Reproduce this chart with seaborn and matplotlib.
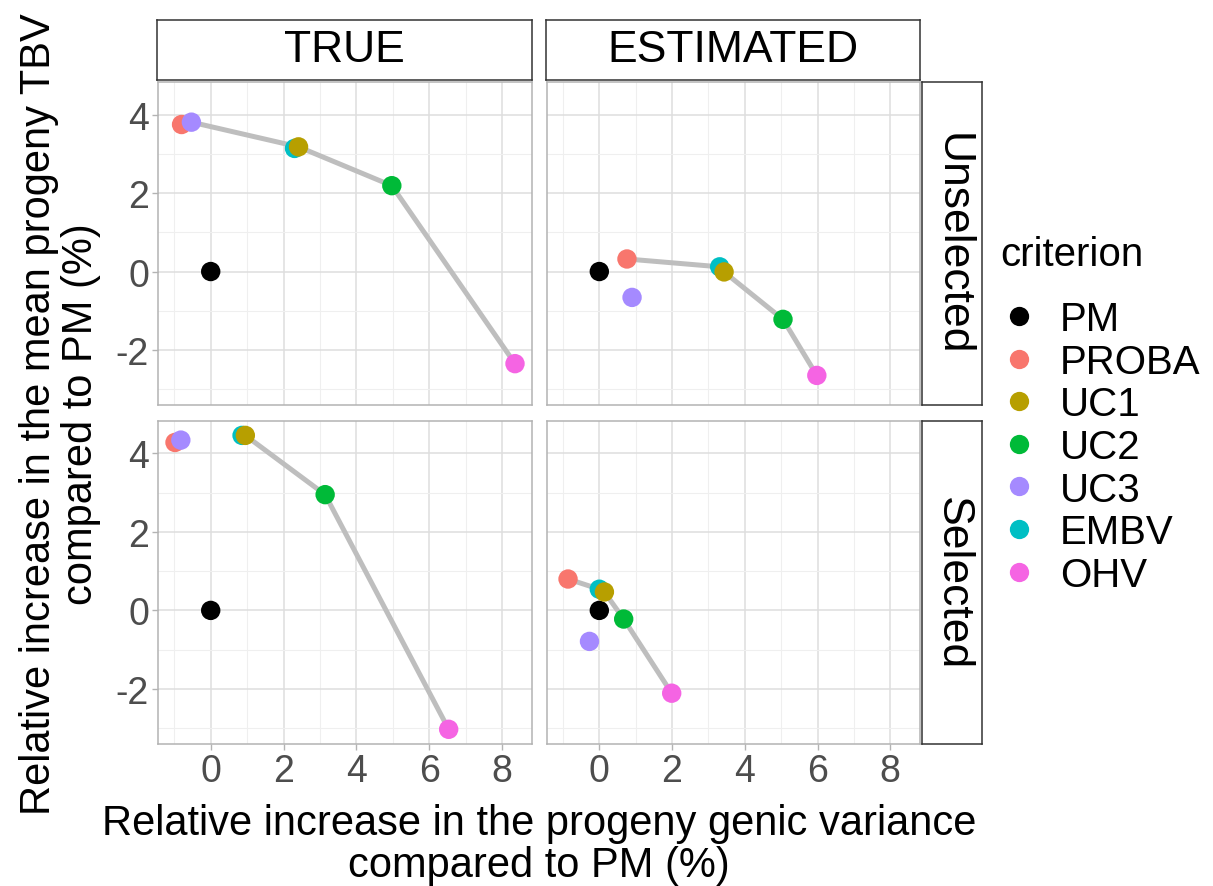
import matplotlib
matplotlib.use('Agg')
import matplotlib.pyplot as plt
from matplotlib.lines import Line2D
from matplotlib.ticker import FixedLocator
import seaborn as sns
import pandas as pd

# criteria, in legend order and in drawing order
criteria = ['PM', 'PROBA', 'UC1', 'UC2', 'UC3', 'EMBV', 'OHV']
draw_order = ['PM', 'PROBA', 'EMBV', 'UC1', 'UC2', 'UC3', 'OHV']
colors = ['#000000', '#F8766D', '#B79F00', '#00BA38', '#A58AFF', '#00BFC4', '#F564E3']

types = ['TRUE', 'ESTIMATED']
sels = ['Unselected', 'Selected']

# values per panel, criterion order PM, PROBA, UC1, UC2, UC3, EMBV, OHV
var_true_unsel = [0, -0.80, 2.41, 4.97, -0.53, 2.30, 8.35]
tbv_true_unsel = [0, 3.75, 3.18, 2.19, 3.81, 3.14, -2.35]
var_est_unsel = [0, 0.76, 3.43, 5.05, 0.90, 3.31, 5.98]
tbv_est_unsel = [0, 0.32, -0.01, -1.22, -0.66, 0.12, -2.65]
var_true_sel = [0, -0.98, 0.95, 3.14, -0.82, 0.86, 6.53]
tbv_true_sel = [0, 4.28, 4.46, 2.95, 4.34, 4.46, -3.03]
var_est_sel = [0, -0.86, 0.14, 0.67, -0.27, 0.00, 1.99]
tbv_est_sel = [0, 0.80, 0.47, -0.22, -0.79, 0.54, -2.11]

# criteria on the front line in each panel
front_true_unsel = ['UC3', 'UC1', 'UC2', 'OHV']
front_est_unsel = ['PROBA', 'EMBV', 'UC1', 'UC2', 'OHV']
front_true_sel = ['UC1', 'UC2', 'OHV']
front_est_sel = ['PROBA', 'EMBV', 'UC1', 'UC2', 'OHV']

panels = [
    ('TRUE', 'Unselected', var_true_unsel, tbv_true_unsel, front_true_unsel),
    ('ESTIMATED', 'Unselected', var_est_unsel, tbv_est_unsel, front_est_unsel),
    ('TRUE', 'Selected', var_true_sel, tbv_true_sel, front_true_sel),
    ('ESTIMATED', 'Selected', var_est_sel, tbv_est_sel, front_est_sel),
]
rows = []
for t, s, xs, ys, front in panels:
    for c, x, y in zip(criteria, xs, ys):
        rows.append(dict(type=t, sel=s, criterion=c, var=x, tbv=y, front=c in front))
df = pd.DataFrame(rows)
df['order'] = df.criterion.map({c: i for i, c in enumerate(draw_order)})
df = df.sort_values('order')

palette = dict(zip(criteria, colors))

sns.set_style('white')
plt.rcParams['font.family'] = ['Liberation Sans', 'DejaVu Sans']
plt.rcParams['axes.unicode_minus'] = False
plt.rcParams['text.color'] = 'black'

W, H = 1213, 887


def draw(data, **kws):
    ax = plt.gca()
    fr = data[data.front]
    sns.lineplot(data=fr, x='var', y='tbv', color='#BEBEBE', linewidth=3.6,
                 sort=True, estimator=None, ax=ax, zorder=2)
    sns.scatterplot(data=data, x='var', y='tbv', hue='criterion', palette=palette,
                    hue_order=criteria, s=195, linewidth=0, legend=False, ax=ax, zorder=3)


g = sns.FacetGrid(df, row='sel', col='type', row_order=sels, col_order=types,
                  sharex=True, sharey=True, height=4, aspect=1)
g.map_dataframe(draw)
fig = g.figure
fig.set_size_inches(W / 100, H / 100)

# panel geometry in pixels (left, top, right, bottom)
colx = [(158, 532), (546.7, 920)]
rowy = [(83, 406), (421.7, 745)]

for i in range(2):
    for j in range(2):
        ax = g.axes[i, j]
        x0, x1 = colx[j]
        y0, y1 = rowy[i]
        ax.set_position([x0 / W, 1 - y1 / H, (x1 - x0) / W, (y1 - y0) / H])
        ax.set_title('')
        ax.set_xlabel('')
        ax.set_ylabel('')
        ax.set_facecolor('white')
        ax.xaxis.set_major_locator(FixedLocator([0, 2, 4, 6, 8]))
        ax.yaxis.set_major_locator(FixedLocator([-2, 0, 2, 4]))
        ax.xaxis.set_minor_locator(FixedLocator([-1, 1, 3, 5, 7]))
        ax.yaxis.set_minor_locator(FixedLocator([-3, -1, 1, 3]))
        ax.grid(True, which='major', color='#DEDEDE', linewidth=1.1, zorder=0)
        ax.grid(True, which='minor', color='#EFEFEF', linewidth=0.8, zorder=0)
        ax.set_axisbelow(True)
        for sp in ax.spines.values():
            sp.set_visible(True)
            sp.set_color('#B3B3B3')
            sp.set_linewidth(1.1)
        ax.tick_params(which='major', length=4.5, width=1.0, color='#B3B3B3',
                       labelsize=27, labelcolor='#4D4D4D', pad=2,
                       bottom=(i == 1), left=(j == 0),
                       labelbottom=(i == 1), labelleft=(j == 0))
        ax.tick_params(which='minor', length=0)

# strips
for j, t in enumerate(types):
    x0, x1 = colx[j]
    sa = fig.add_axes([(x0 - 1) / W, 1 - 81 / H, (x1 - x0 + 1) / W, 60.3 / H])
    sa.set_xticks([])
    sa.set_yticks([])
    for sp in sa.spines.values():
        sp.set_color('#333333')
        sp.set_linewidth(1.1)
    sa.text(0.5, 0.5, t, ha='center', va='center', fontsize=32, color='black',
            transform=sa.transAxes)
for i, s in enumerate(sels):
    y0, y1 = rowy[i]
    sa = fig.add_axes([922 / W, 1 - y1 / H, 60 / W, (y1 - y0) / H])
    sa.set_xticks([])
    sa.set_yticks([])
    for sp in sa.spines.values():
        sp.set_color('#333333')
        sp.set_linewidth(1.1)
    sa.text(0.5, 0.5, s, ha='center', va='center', fontsize=32, color='black',
            rotation=-90, transform=sa.transAxes)

# axis titles
fig.text(539 / W, 1 - 845 / H,
         'Relative increase in the progeny genic variance\ncompared to PM (%)',
         ha='center', va='center', fontsize=30, linespacing=1.09, color='black')
fig.text(60 / W, 1 - 414 / H,
         'Relative increase in the mean progeny TBV\ncompared to PM (%)',
         ha='center', va='center', fontsize=30, linespacing=1.09, rotation=90,
         color='black')

# legend
fig.text(1000 / W, 1 - 255 / H, 'criterion', ha='left', va='center', fontsize=29,
         color='black')
handles = [Line2D([], [], marker='o', linestyle='', markersize=13.9,
                  markerfacecolor=palette[c], markeredgewidth=0) for c in criteria]
leg = fig.legend(handles, criteria, loc='upper left',
                 bbox_to_anchor=(999 / W, 1 - 301 / H), frameon=False,
                 fontsize=29, handlelength=1.0, handletextpad=0.52,
                 labelspacing=0.115, borderaxespad=0, borderpad=0,
                 labelcolor='black')

fig.savefig('out.png', dpi=100)
